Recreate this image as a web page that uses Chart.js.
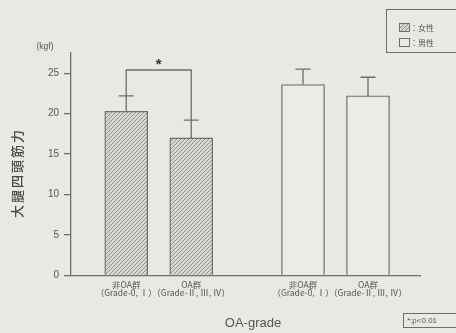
<!DOCTYPE html>
<html>
<head>
<meta charset="utf-8">
<script src="https://cdn.jsdelivr.net/npm/chart.js@4/dist/chart.umd.min.js"></script>
<style>
  html, body { margin: 0; padding: 0; background: #e8e8e4; }
  #wrap { width: 456px; height: 333px; position: relative; }
  canvas { display: block; }
</style>
</head>
<body>
<div id="wrap"><canvas id="c" width="456" height="333"></canvas></div>
<script>
// Quadriceps strength (kgf) by OA grade and sex: mean with upper SD
const groupNames = ['非OA群', 'OA群'];
const gradeNames = ['（Grade-0, Ⅰ）', '（Grade-Ⅱ, Ⅲ, Ⅳ）'];
const seriesNames = ['女性', '男性'];
const femaleMeans = [20.3, 17.0];
const femaleSD = [1.9, 2.2];
const maleMeans = [23.6, 22.2];
const maleSD = [1.9, 2.3];
const yTicks = [0, 5, 10, 15, 20, 25];
const yMax = 27.5;
const sigLevel = 25.4;          // height of the significance bracket
const sigMark = '*';
const sigNote = '*:p<0.01';
const unitLabel = '(kgf)';
const yTitle = '大腿四頭筋力';
const xTitle = 'OA-grade';

const LINE = '#6e6e6c';
const TEXT = '#555553';
const BG = '#e8e8e4';
const LATIN = '"Liberation Sans", "Noto Sans CJK JP", sans-serif';
const CJK = '"Noto Sans CJK JP", "Liberation Sans", sans-serif';

// category slots: women left group, men right group with a wider gap
const groupGap = 0.72;
const slot = (sex, i) => i + (sex === 1 ? groupNames.length + groupGap : 0);
const slotValues = [0, 1].flatMap(s => groupNames.map((_, i) => slot(s, i)));
const slotLabels = [0, 1].flatMap(() => groupNames.map((g, i) => [g, gradeNames[i]]));

function hatch() {
  const p = document.createElement('canvas');
  p.width = 4; p.height = 4;
  const g = p.getContext('2d');
  g.fillStyle = '#d6d6d2';
  g.fillRect(0, 0, 4, 4);
  g.strokeStyle = '#8a8a87';
  g.lineWidth = 0.9;
  g.beginPath();
  g.moveTo(-1, 5); g.lineTo(5, -1);
  g.moveTo(-1, 1); g.lineTo(1, -1);
  g.moveTo(3, 5); g.lineTo(5, 3);
  g.stroke();
  return g.createPattern(p, 'repeat');
}
const femaleFill = hatch();
const maleFill = '#ebebe8';

const annotations = {
  id: 'annotations',
  beforeDraw(chart) {
    const ctx = chart.ctx;
    ctx.save();
    ctx.fillStyle = BG;
    ctx.fillRect(0, 0, chart.width, chart.height);
    ctx.restore();
  },
  afterDatasetsDraw(chart) {
    const ctx = chart.ctx;
    const x = chart.scales.x, y = chart.scales.y;
    ctx.save();
    ctx.strokeStyle = LINE;
    ctx.lineWidth = 1.3;
    const sets = [[femaleMeans, femaleSD, 0], [maleMeans, maleSD, 1]];
    const tops = {};
    sets.forEach(([m, sd, s]) => {
      m.forEach((v, i) => {
        const px = x.getPixelForValue(slot(s, i));
        const yb = y.getPixelForValue(v);
        const yt = y.getPixelForValue(v + sd[i]);
        tops[s + '-' + i] = [px, yt];
        ctx.beginPath();
        ctx.moveTo(px, yb); ctx.lineTo(px, yt);
        ctx.moveTo(px - 7.5, yt); ctx.lineTo(px + 7.5, yt);
        ctx.stroke();
      });
    });
    // significance bracket between the two female groups
    const a = tops['0-0'], b = tops['0-1'];
    const ys = y.getPixelForValue(sigLevel);
    ctx.beginPath();
    ctx.moveTo(a[0], a[1]); ctx.lineTo(a[0], ys);
    ctx.lineTo(b[0], ys); ctx.lineTo(b[0], b[1]);
    ctx.stroke();
    ctx.fillStyle = '#333331';
    ctx.font = 'bold 15px ' + LATIN;
    ctx.textAlign = 'center';
    ctx.textBaseline = 'middle';
    ctx.fillText(sigMark, (a[0] + b[0]) / 2, ys - 5);

    // unit and axis titles
    ctx.fillStyle = TEXT;
    ctx.font = '8.5px ' + LATIN;
    ctx.fillText(unitLabel, 45, 47);
    ctx.font = '13px ' + LATIN;
    ctx.fillText(xTitle, 253, 323);
    ctx.save();
    ctx.translate(17, 173);
    ctx.rotate(-Math.PI / 2);
    ctx.fillStyle = '#4a4a48';
    ctx.font = '500 13px ' + CJK;
    ctx.letterSpacing = '2px';
    ctx.fillText(yTitle, 0, 0);
    ctx.restore();

    // legend box
    ctx.lineWidth = 1;
    ctx.strokeStyle = LINE;
    ctx.strokeRect(386.5, 9.5, 80, 43);
    const fills = [femaleFill, maleFill];
    seriesNames.forEach((n, i) => {
      const ry = 23 + i * 15;
      ctx.fillStyle = fills[i];
      ctx.fillRect(399, ry, 10, 8);
      ctx.strokeRect(399.5, ry + 0.5, 10, 8);
      ctx.fillStyle = TEXT;
      ctx.font = '8px ' + CJK;
      ctx.textAlign = 'left';
      ctx.fillText('：' + n, 410, ry + 4.5);
    });

    // significance note
    ctx.strokeRect(403.5, 313.5, 60, 14);
    ctx.font = '8px ' + LATIN;
    ctx.textAlign = 'left';
    ctx.fillText(sigNote, 407, 321);
    ctx.restore();
  }
};

new Chart(document.getElementById('c'), {
  type: 'bar',
  data: {
    datasets: [
      {
        label: seriesNames[0],
        data: femaleMeans.map((v, i) => ({ x: slot(0, i), y: v })),
        backgroundColor: femaleFill,
        borderColor: LINE,
        borderWidth: 1.3,
        borderSkipped: 'bottom'
      },
      {
        label: seriesNames[1],
        data: maleMeans.map((v, i) => ({ x: slot(1, i), y: v })),
        backgroundColor: maleFill,
        borderColor: LINE,
        borderWidth: 1.3,
        borderSkipped: 'bottom'
      }
    ]
  },
  options: {
    responsive: false,
    animation: false,
    devicePixelRatio: 1,
    grouped: false,
    barThickness: 43,
    layout: { padding: { top: 53, right: 36, left: 0, bottom: 0 } },
    plugins: { legend: { display: false }, tooltip: { enabled: false } },
    scales: {
      x: {
        type: 'linear',
        offset: false,
        min: -0.85,
        max: 4.52,
        afterFit(s) { s.height = 57.5; },
        afterBuildTicks(s) { s.ticks = slotValues.map(v => ({ value: v })); },
        grid: { display: false, drawTicks: false },
        border: { color: LINE, width: 1.3 },
        ticks: {
          padding: 5,
          color: TEXT,
          autoSkip: false,
          maxRotation: 0,
          font: { size: 8.5, family: CJK, lineHeight: 0.98 },
          callback: (v, i) => slotLabels[i]
        }
      },
      y: {
        min: 0,
        max: yMax,
        afterFit(s) { s.width = 71; },
        afterBuildTicks(s) { s.ticks = yTicks.map(v => ({ value: v })); },
        grid: { drawOnChartArea: false, tickLength: 7, color: LINE, lineWidth: 1.3 },
        border: { color: LINE, width: 1.3 },
        ticks: {
          padding: 5,
          color: TEXT,
          font: { size: 10, family: LATIN }
        }
      }
    }
  },
  plugins: [annotations]
});
</script>
</body>
</html>
